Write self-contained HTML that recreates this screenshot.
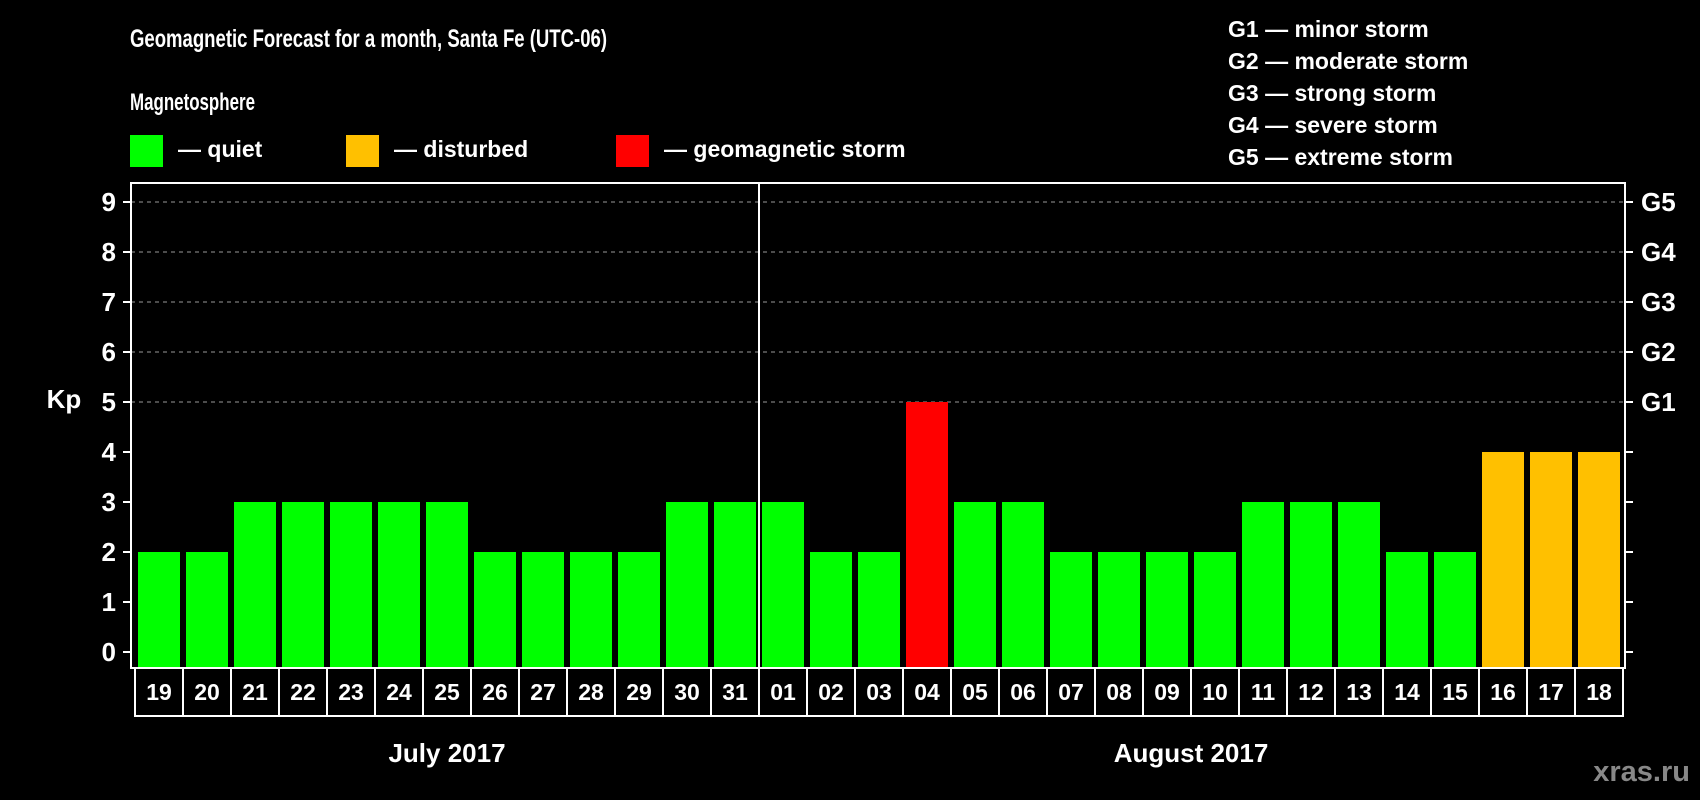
<!DOCTYPE html>
<html><head><meta charset="utf-8"><style>
html,body{margin:0;padding:0;background:#000;}
svg{display:block;font-family:"Liberation Sans",Arial,sans-serif;font-weight:bold;}
</style></head><body>
<svg id="chart" width="1700" height="800" viewBox="0 0 1700 800" xmlns="http://www.w3.org/2000/svg">
<rect width="1700" height="800" fill="#000"/>
<text x="130" y="47" fill="#fff" font-size="25" textLength="477" lengthAdjust="spacingAndGlyphs">Geomagnetic Forecast for a month, Santa Fe (UTC-06)</text>
<text x="130" y="110" fill="#fff" font-size="24" textLength="125" lengthAdjust="spacingAndGlyphs">Magnetosphere</text>
<g><rect x="130" y="135" width="33" height="32" fill="#00ff00"/><text x="178" y="157" fill="#fff" font-size="23">— quiet</text></g>
<g><rect x="346" y="135" width="33" height="32" fill="#ffc000"/><text x="394" y="157" fill="#fff" font-size="23">— disturbed</text></g>
<g><rect x="616" y="135" width="33" height="32" fill="#ff0000"/><text x="664" y="157" fill="#fff" font-size="23">— geomagnetic storm</text></g>
<g fill="#fff" font-size="23">
<text x="1228" y="37">G1 — minor storm</text>
<text x="1228" y="69">G2 — moderate storm</text>
<text x="1228" y="101">G3 — strong storm</text>
<text x="1228" y="133">G4 — severe storm</text>
<text x="1228" y="165">G5 — extreme storm</text>
</g>
<text x="64" y="408" fill="#fff" font-size="26" text-anchor="middle">Kp</text>
<g id="grid"></g>
<g id="bars"></g>
<g id="axes"></g>
<text x="1690" y="781" fill="#888" font-size="29" text-anchor="end">xras.ru</text>
</svg>
<script>
const days = ["19","20","21","22","23","24","25","26","27","28","29","30","31","01","02","03","04","05","06","07","08","09","10","11","12","13","14","15","16","17","18"];
const kpValues = [2,2,3,3,3,3,3,2,2,2,2,3,3,3,2,2,5,3,3,2,2,2,2,3,3,3,2,2,4,4,4];
const yTicks = [0,1,2,3,4,5,6,7,8,9];
const gLabels = ["G1","G2","G3","G4","G5"];
const months = ["July 2017","August 2017"];
const monthLengths = [13,18];

const NS="http://www.w3.org/2000/svg";
const L=131,R=1625,T=183,B=668;
const x0=138,pitch=48,bw=42;
function y(v){return 652-v*50;}
function bx(i){return x0+i*pitch;}
function mk(tag,attrs,parent){const e=document.createElementNS(NS,tag);for(const k in attrs)e.setAttribute(k,attrs[k]);parent.appendChild(e);return e;}
const grid=document.getElementById('grid'),bars=document.getElementById('bars'),axes=document.getElementById('axes');

// frame
const frame=mk('rect',{x:L,y:T,width:R-L,height:B-T,fill:'none',stroke:'#fff','stroke-width':2},axes);



yTicks.forEach(v=>{
  if(v>=5){
    const g=mk('line',{x1:L,x2:R,y1:y(v),y2:y(v),stroke:'#999','stroke-width':1,'stroke-dasharray':'4,4'},grid);
    
    
  }
  const t=mk('line',{x1:L-8,x2:L,y1:y(v),y2:y(v),stroke:'#fff','stroke-width':2},axes);
  
  
  const t2=mk('line',{x1:R,x2:R+8,y1:y(v),y2:y(v),stroke:'#fff','stroke-width':2},axes);
  
  
  const lb=mk('text',{x:L-15,y:y(v)+9,fill:'#fff','font-size':26,'text-anchor':'end'},axes);
  lb.textContent=v;
  
  
});
gLabels.forEach((g,i)=>{
  const lb=mk('text',{x:R+16,y:y(5+i)+9,fill:'#fff','font-size':26},axes);
  lb.textContent=g;
  
  
});

kpValues.forEach((v,i)=>{
  const c=v>=5?'#ff0000':(v>=4?'#ffc000':'#00ff00');
  const r=mk('rect',{x:bx(i),y:y(v),width:bw,height:B-1-y(v),fill:c},bars);
  
  
  const cell=mk('rect',{x:bx(i)-3,y:B,width:pitch,height:48,fill:'none',stroke:'#fff','stroke-width':2},axes);
  
  
  const t=mk('text',{x:bx(i)+bw/2,y:700,fill:'#fff','font-size':23,'text-anchor':'middle'},axes);
  t.textContent=days[i];
  
  
});

// month divider & labels
let start=0;
months.forEach((m,k)=>{
  const n=monthLengths[k];
  const cx=(bx(start)-3+bx(start+n-1)+bw+3)/2;
  const t=mk('text',{x:cx,y:762,fill:'#fff','font-size':26,'text-anchor':'middle'},axes);
  t.textContent=m;
  
  
  if(k>0){
    const d=mk('line',{x1:bx(start)-3,x2:bx(start)-3,y1:T,y2:B,stroke:'#fff','stroke-width':2},axes);
    
    
  }
  start+=n;
});
</script>
</body></html>
